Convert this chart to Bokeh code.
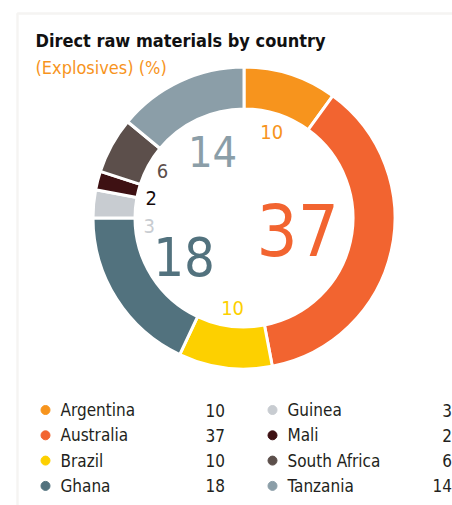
import numpy as np
from bokeh.plotting import figure
from bokeh.models import Range1d, ColumnDataSource, BoxAnnotation
from bokeh.core.properties import value
from bokeh.embed import file_html
from bokeh.resources import INLINE

# ---- data ----
title = "Direct raw materials by country"
subtitle = "(Explosives) (%)"
countries = ["Argentina", "Australia", "Brazil", "Ghana", "Guinea", "Mali", "South Africa", "Tanzania"]
shares = [10, 37, 10, 18, 3, 2, 6, 14]

# ---- styles ----
colors = ["#f7941d", "#f26430", "#fdd000", "#52727e", "#c8ccd1", "#3e1113", "#5c4f4b", "#8b9ea8"]
label_colors = ["#f7941d", "#f26430", "#fdd000", "#52727e", "#c8ccd1", "#140a0a", "#5c4f4b", "#8b9ea8"]
label_sizes = [20, 72, 20, 54, 20, 20, 20, 43]
label_radius = [90, 55, 91, 71, 95, 95, 94, 74]
label_nudge_deg = [0, 0, 0, 0, 10, 2, -1, 0]
FONT = "'DejaVu Sans Condensed', 'Roboto Condensed', 'Liberation Sans Narrow', 'Liberation Sans', sans-serif"

p = figure(width=452, height=505, output_backend="svg", toolbar_location=None,
           x_range=Range1d(0, 452), y_range=Range1d(-505, 0),
           x_axis_type=None, y_axis_type=None, min_border=0)
p.outline_line_color = None
p.grid.visible = False
p.background_fill_color = "white"

# panel border (top + left)
p.add_layout(BoxAnnotation(left=17, right=470, top=-13, bottom=-530,
                           fill_alpha=0, line_color="#dddad5", line_width=2.5))

# ---- donut ----
cx, cy = 243.5, -217.5
r_out, r_in = 151, 109
vals = np.array(shares, dtype=float)
frac = vals / vals.sum()
end_f = np.cumsum(frac)
start_f = end_f - frac
start_a = np.pi / 2 - 2 * np.pi * start_f
end_a = np.pi / 2 - 2 * np.pi * end_f
mid_a = (start_a + end_a) / 2 + np.radians(label_nudge_deg)

src = ColumnDataSource(dict(x=[cx] * len(vals), y=[cy] * len(vals), s=start_a, e=end_a, c=colors))
p.annular_wedge(x="x", y="y", inner_radius=r_in, outer_radius=r_out, start_angle="s", end_angle="e",
                direction="clock", fill_color="c", line_color="white", line_width=3, source=src)

r_lab = np.array(label_radius, dtype=float)
lab = ColumnDataSource(dict(
    x=cx + r_lab * np.cos(mid_a), y=cy + r_lab * np.sin(mid_a),
    t=[str(v) for v in shares], c=label_colors, fs=[f"{s}px" for s in label_sizes]))
p.text(x="x", y="y", text="t", text_color="c", text_font_size="fs", text_font=value(FONT),
       text_align="center", text_baseline="middle", source=lab)

# ---- titles ----
p.text(x=[35], y=[-39.5], text=[title], text_font=value(FONT), text_font_style="bold",
       text_font_size="18px", text_color="#111111", text_baseline="middle")
p.text(x=[35], y=[-67], text=[subtitle], text_font=value(FONT),
       text_font_size="18px", text_color="#f7941d", text_baseline="middle")

# ---- legend ----
n = len(countries)
half = (n + 1) // 2
col = np.array([i // half for i in range(n)])
row = np.array([i % half for i in range(n)])
dot_x = np.where(col == 0, 45, 272)
name_x = np.where(col == 0, 60, 287)
val_x = np.where(col == 0, 224.5, 451.5)
ly = -(409.5 + 25.3 * row)
leg = ColumnDataSource(dict(dx=dot_x, nx=name_x, vx=val_x, y=ly, c=colors,
                            name=countries, v=[str(v) for v in shares]))
p.scatter(x="dx", y="y", size=9, color="c", source=leg)
p.text(x="nx", y="y", text="name", text_font=value(FONT), text_font_size="17px",
       text_color="#231f20", text_baseline="middle", source=leg)
p.text(x="vx", y="y", text="v", text_font=value(FONT), text_font_size="17px",
       text_color="#231f20", text_baseline="middle", text_align="right", source=leg)

open("out.html", "w").write(file_html(p, INLINE))
